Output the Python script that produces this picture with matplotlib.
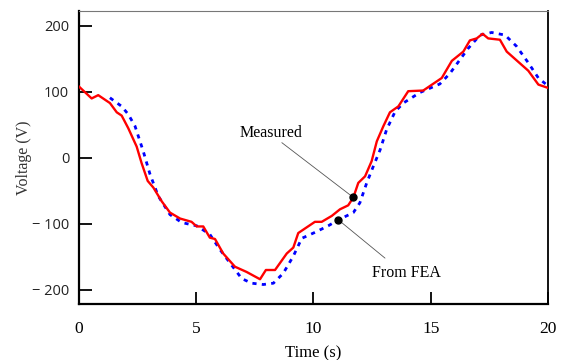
import numpy as np
import matplotlib
matplotlib.use('Agg')
import matplotlib.pyplot as plt

# Measured voltage (red solid)
time_measured = [0.0, 0.54, 0.82, 1.32, 1.61, 1.82, 2.1, 2.46, 2.67, 2.93, 3.17, 3.53,
                 3.88, 4.31, 4.8, 5.02, 5.3, 5.58, 5.8, 6.15, 6.65, 7.15, 7.72, 7.97,
                 8.36, 8.86, 9.14, 9.35, 9.6, 10.06, 10.35, 10.78, 11.13, 11.48, 11.7,
                 11.91, 12.2, 12.48, 12.7, 12.98, 13.26, 13.62, 14.04, 14.68, 15.47,
                 15.9, 16.39, 16.67, 16.96, 17.21, 17.45, 17.95, 18.24, 19.16, 19.59,
                 20.0]
volt_measured = [108, 90, 95, 83, 69, 64, 45, 17, -8, -35, -45, -66,
                 -83, -92, -97, -104, -104, -121, -123, -145, -165, -173, -184, -170,
                 -170, -145, -136, -114, -108, -97, -97, -88, -78, -72, -60,
                 -38, -28, -5, 25, 48, 69, 78, 101, 102, 121,
                 147, 161, 178, 181, 188, 181, 179, 161, 132, 111,
                 106]

# FEA voltage (blue dotted)
time_fea = [1.32, 1.82, 2.1, 2.39, 2.74, 3.03, 3.38, 3.88, 4.38, 4.87, 5.02, 5.58,
            6.01, 6.58, 6.94, 7.36, 7.86, 8.29, 8.71, 9.14, 9.5, 10.06, 10.63, 11.06,
            11.7, 11.98, 12.27, 12.55, 12.84, 13.12, 13.48, 13.83, 14.54, 15.39,
            15.82, 16.25, 16.6, 17.1, 17.6, 18.17, 18.66, 19.16, 19.59, 20.0]
volt_fea = [91, 78, 66, 48, 10, -25, -58, -86, -98, -102, -103, -116,
            -139, -166, -183, -190, -192, -190, -175, -149, -122, -113, -103, -94,
            -83, -68, -38, -13, 12, 43, 70, 83, 99, 112,
            128, 149, 166, 186, 190, 186, 169, 144, 121, 109]

x_ticks = [0, 5, 10, 15, 20]
y_ticks = [-200, -100, 0, 100, 200]
y_tick_labels = ['\u2212 200', '\u2212 100', '0', '100', '200']

fig = plt.figure(figsize=(5.65, 3.6), dpi=100)
ax = fig.add_axes([0.1398, 0.1547, 0.8301, 0.8156])

ax.plot(time_measured, volt_measured, color='#ff0000', lw=1.7, zorder=3)
ax.plot(time_fea, volt_fea, color='#0000ff', lw=2.0, linestyle=(0, (1.5, 1.9)), zorder=2)

ax.set_xlim(0, 20)
ax.set_ylim(-222, 223)

# tick style: inward, long
ax.set_xticks(x_ticks)
ax.set_yticks(y_ticks)
ax.set_yticklabels(y_tick_labels)
ax.tick_params(axis='both', direction='in', length=9, width=1.3, color='black')
ax.tick_params(axis='x', pad=12)
ax.tick_params(axis='y', pad=7)
for lab in ax.get_xticklabels():
    lab.set_fontfamily('Liberation Serif')
    lab.set_fontsize(12.5)
for lab in ax.get_yticklabels():
    lab.set_fontfamily('Open Sans')
    lab.set_fontsize(10.5)
    lab.set_color('#222222')

for side in ['left', 'bottom']:
    ax.spines[side].set_linewidth(1.6)
ax.spines['right'].set_linewidth(1.3)
ax.spines['top'].set_linewidth(0.8)
ax.spines['top'].set_color('#777777')

ax.set_xlabel('Time (s)', family='Liberation Serif', fontsize=12, labelpad=6)
ax.set_ylabel('Voltage (V)', family='Liberation Serif', fontsize=11.5, labelpad=0,
              color='#333333')

# annotations: dots on curves with thin leader lines
mx = 11.7
my = np.interp(mx, time_measured, volt_measured)
fx = 11.06
fy = np.interp(fx, time_fea, volt_fea)
ax.plot([mx], [my], 'o', color='black', ms=5, zorder=4)
ax.plot([fx], [fy], 'o', color='black', ms=5, zorder=4)
ax.annotate('', xy=(mx, my), xytext=(8.65, 23),
            arrowprops=dict(arrowstyle='-', color='#555555', lw=0.6,
                            shrinkA=0, shrinkB=0))
ax.annotate('', xy=(fx, fy), xytext=(13.05, -152),
            arrowprops=dict(arrowstyle='-', color='#555555', lw=0.6,
                            shrinkA=0, shrinkB=0))
ax.text(8.2, 37, 'Measured', family='Liberation Serif', fontsize=11.5,
        ha='center', va='center')
ax.text(13.97, -175, 'From FEA', family='Liberation Serif', fontsize=11.5,
        ha='center', va='center')

fig.savefig('out.png', dpi=100)
